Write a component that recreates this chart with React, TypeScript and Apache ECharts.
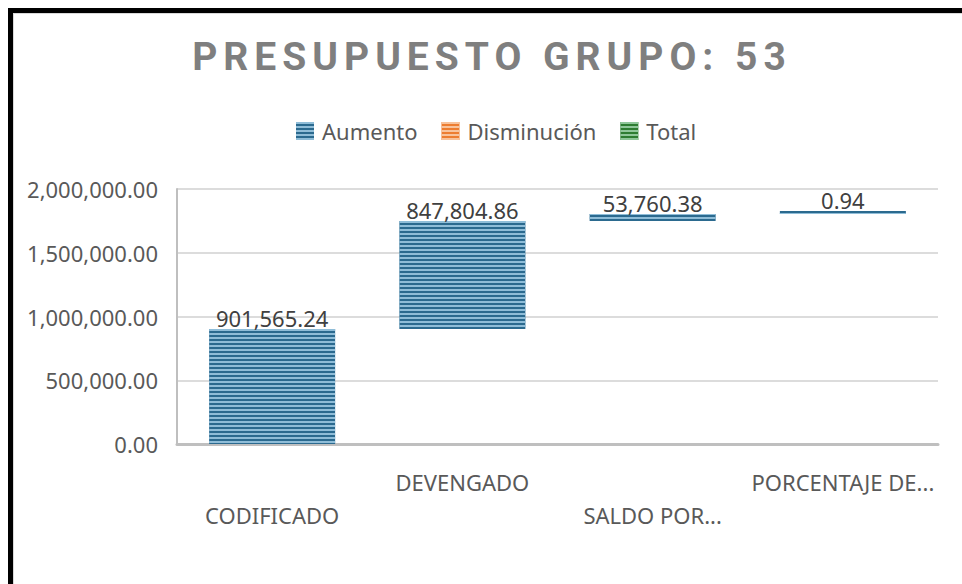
import React, { useEffect, useRef } from "react";
import * as echarts from "echarts";

const TITLE = "PRESUPUESTO GRUPO: 53";
const categories = ["CODIFICADO", "DEVENGADO", "SALDO POR...", "PORCENTAJE DE..."];
const stepValues = [901565.24, 847804.86, 53760.38, 0.94];
const legendNames = ["Aumento", "Disminución", "Total"];
const legendColors = ["#2b6a8f", "#ed7d31", "#2e7d32"];
const decalColors = ["#8fbdd8", "#f8c39c", "#8fc79a"];
const yTicks = { min: 0, max: 2000000, interval: 500000 };

const fmt = (v: number) =>
  v.toLocaleString("en-US", { minimumFractionDigits: 2, maximumFractionDigits: 2 });

const FONT = "Noto Sans";
const W = 949;
const H = 571;

export default function App() {
  const ref = useRef<HTMLDivElement>(null);
  useEffect(() => {
    if (!ref.current) return;
    const chart = echarts.init(ref.current, undefined, { renderer: "svg" });
    const bases: number[] = [];
    let acc = 0;
    for (const v of stepValues) {
      bases.push(acc);
      acc += v;
    }
    const decal = (i: number) => ({
      symbol: "rect",
      symbolSize: 1,
      color: decalColors[i],
      dashArrayX: [1, 0],
      dashArrayY: [2, 2],
      rotation: 0,
    });
    chart.setOption({
      animation: false,
      textStyle: { fontFamily: FONT },
      title: {
        text: TITLE,
        left: 479,
        textAlign: "center",
        top: 24,
        padding: 0,
        textStyle: { fontFamily: "Roboto", fontWeight: "bold", fontSize: 39, color: "#7f7f7f" },
      },
      legend: {
        data: legendNames,
        top: 107,
        left: 283,
        padding: 0,
        itemWidth: 18,
        itemHeight: 18,
        itemGap: 24,
        icon: "rect",
        textStyle: { fontFamily: FONT, fontSize: 22, color: "#595959", padding: [0, 0, 0, 3] },
      },
      grid: { left: 164, right: 24, top: 176, bottom: H - 431, containLabel: false },
      xAxis: {
        type: "category",
        data: categories,
        axisLine: { lineStyle: { color: "#bfbfbf", width: 3 } },
        axisTick: { show: false },
        axisLabel: {
          interval: 0,
          margin: 21,
          fontSize: 22,
          lineHeight: 33,
          color: "#595959",
          fontFamily: FONT,
          formatter: (v: string, i: number) => (i % 2 === 0 ? "\n" + v : v),
        },
      },
      yAxis: {
        type: "value",
        min: yTicks.min,
        max: yTicks.max,
        interval: yTicks.interval,
        axisLine: { show: true, lineStyle: { color: "#bfbfbf", width: 2 } },
        axisTick: { show: false },
        splitLine: { lineStyle: { color: "#d0d0d0", width: 1.5 } },
        axisLabel: {
          margin: 19,
          fontSize: 22,
          color: "#595959",
          fontFamily: FONT,
          formatter: (v: number) => fmt(v),
        },
      },
      series: [
        {
          name: "base",
          type: "bar",
          stack: "wf",
          data: bases,
          barWidth: 126,
          itemStyle: { color: "transparent" },
          emphasis: { disabled: true },
          silent: true,
        },
        {
          name: legendNames[0],
          type: "bar",
          stack: "wf",
          data: stepValues,
          barWidth: 126,
          barMinHeight: 3,
          itemStyle: { color: legendColors[0], decal: decal(0) },
          label: {
            show: true,
            position: "top",
            distance: 0,
            fontSize: 22,
            color: "#404040",
            fontFamily: FONT,
            formatter: (p: any) => fmt(p.value),
          },
        },
        {
          name: legendNames[1],
          type: "bar",
          stack: "wf",
          data: categories.map(() => "-"),
          barWidth: 126,
          itemStyle: { color: legendColors[1], decal: decal(1) },
        },
        {
          name: legendNames[2],
          type: "bar",
          stack: "wf",
          data: categories.map(() => "-"),
          barWidth: 126,
          itemStyle: { color: legendColors[2], decal: decal(2) },
        },
      ],
    });
    const texts = ref.current.querySelectorAll("text");
    texts.forEach((t) => {
      if (t.textContent === TITLE) t.setAttribute("letter-spacing", "6");
    });
    return () => chart.dispose();
  }, []);
  return (
    <div
      style={{
        position: "fixed",
        left: 8,
        top: 8,
        width: W + 5,
        height: H + 5,
        overflow: "hidden",
        boxSizing: "border-box",
        borderTop: "5px solid #000",
        borderLeft: "5px solid #000",
      }}
    >
      <div
        ref={ref}
        style={{
          width: W,
          height: H,
          boxShadow: "inset 1px 1px 0 #d9d9d9",
          background: "#fff",
        }}
      />
    </div>
  );
}
